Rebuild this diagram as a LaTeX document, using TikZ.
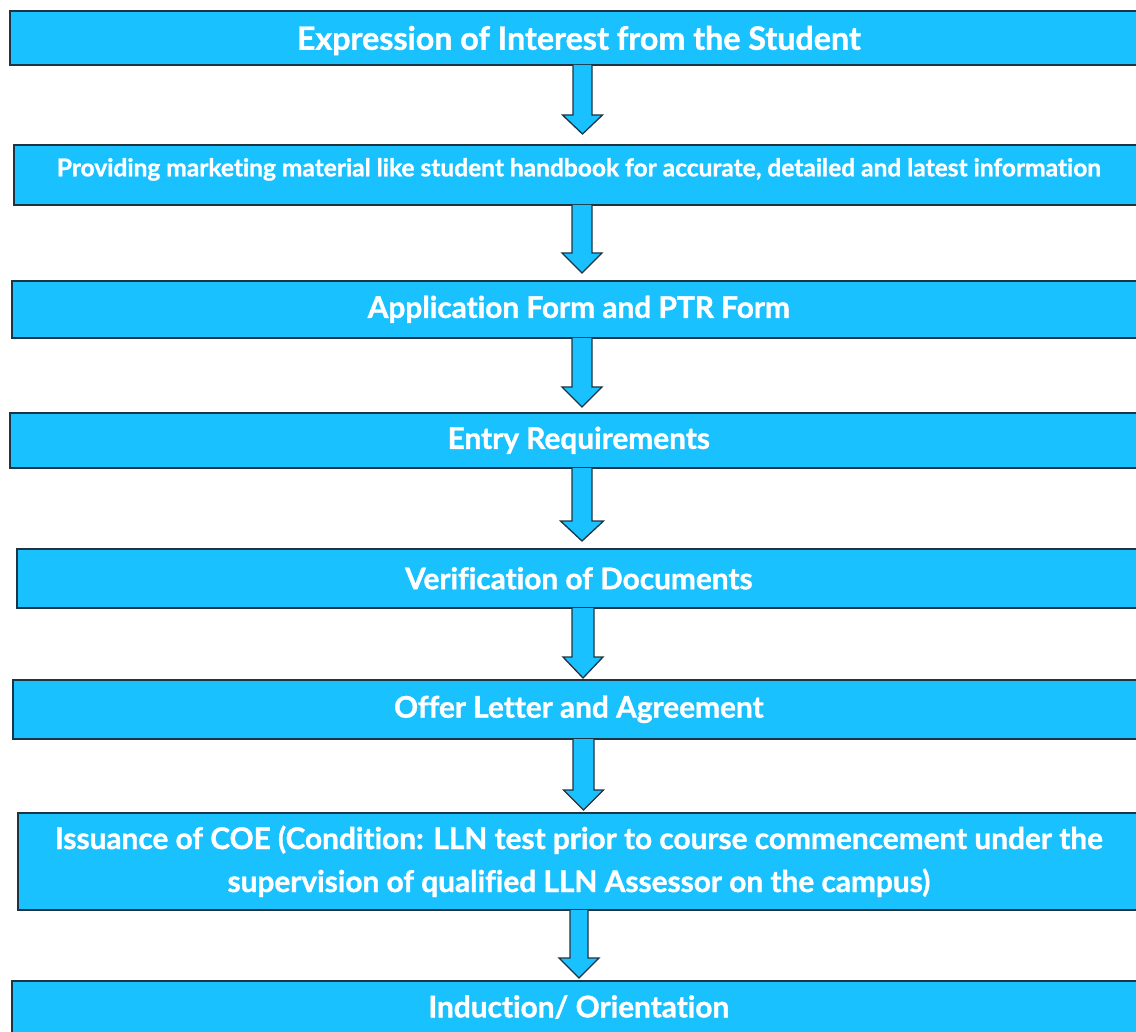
\documentclass[tikz,border=0pt]{standalone}
\usepackage{fontspec}
\setmainfont{Lato}[Ligatures={NoCommon}, BoldFeatures={FakeBold=1.2}]
\definecolor{boxfill}{RGB}{26,193,255}
\definecolor{boxline}{RGB}{30,52,66}
\begin{document}
\begin{tikzpicture}[x=1pt,y=-1pt,
  stepbox/.style={draw=boxline, line width=1.6pt, fill=boxfill, anchor=north west,
    inner sep=0pt, text=white, font=\bfseries\fontsize{29.8}{43}\selectfont, align=center},
  blockarrow/.style={draw=boxline, line width=1.3pt, fill=boxfill, line join=miter}]
\useasboundingbox (0,0) rectangle (1136,1032);
\clip (0,0) rectangle (1136,1032);
\node[stepbox, minimum width=1138pt, minimum height=54pt, text height=24pt, text depth=0pt, font=\bfseries\fontsize{32.2}{40}\selectfont] (b1) at (9,10) {Expression of Interest from the Student};
\node[stepbox, minimum width=1130pt, minimum height=60pt, text height=8pt, text depth=5pt, font=\bfseries\fontsize{24.5}{30}\selectfont] (b2) at (13,144) {Providing marketing material like student handbook for accurate, detailed and latest information};
\node[stepbox, minimum width=1134pt, minimum height=57pt] (b3) at (11,280) {Application Form and PTR Form};
\node[stepbox, minimum width=1138pt, minimum height=55pt] (b4) at (9,412) {Entry Requirements};
\node[stepbox, minimum width=1124pt, minimum height=59pt] (b5) at (16,548) {Verification of Documents};
\node[stepbox, minimum width=1132pt, minimum height=59pt] (b6) at (12,679) {Offer Letter and Agreement};
\node[stepbox, minimum width=1122pt, minimum height=97pt] (b7) at (17,812) {Issuance of COE (Condition: LLN test prior to course commencement under the\\supervision of qualified LLN Assessor on the campus)};
\node[stepbox, minimum width=1134pt, minimum height=54pt] (b8) at (11,980) {};
\node[text=white, font=\bfseries\fontsize{29.8}{43}\selectfont] (t8) at (b8.north) [yshift=-27pt] {Induction/ Orientation};
% block arrows
\newcommand\blockarr[6]{% xc, half shaft, half head, top, head y, tip
  \draw[blockarrow] (#1-#2,#4) -- (#1-#2,#5) -- (#1-#3,#5) -- (#1,#6) -- (#1+#3,#5) -- (#1+#2,#5) -- (#1+#2,#4);}
\blockarr{582.5}{9.5}{20}{65}{115}{134}
\blockarr{582}{10}{20}{205}{253}{273}
\blockarr{582}{10}{20}{338}{387}{407}
\blockarr{582}{10}{21.5}{468}{521}{541}
\blockarr{583}{11}{20}{608}{657}{678}
\blockarr{583.5}{10.5}{20}{739}{790}{810}
\blockarr{579}{9}{20}{910}{958}{978}
\end{tikzpicture}
\end{document}
